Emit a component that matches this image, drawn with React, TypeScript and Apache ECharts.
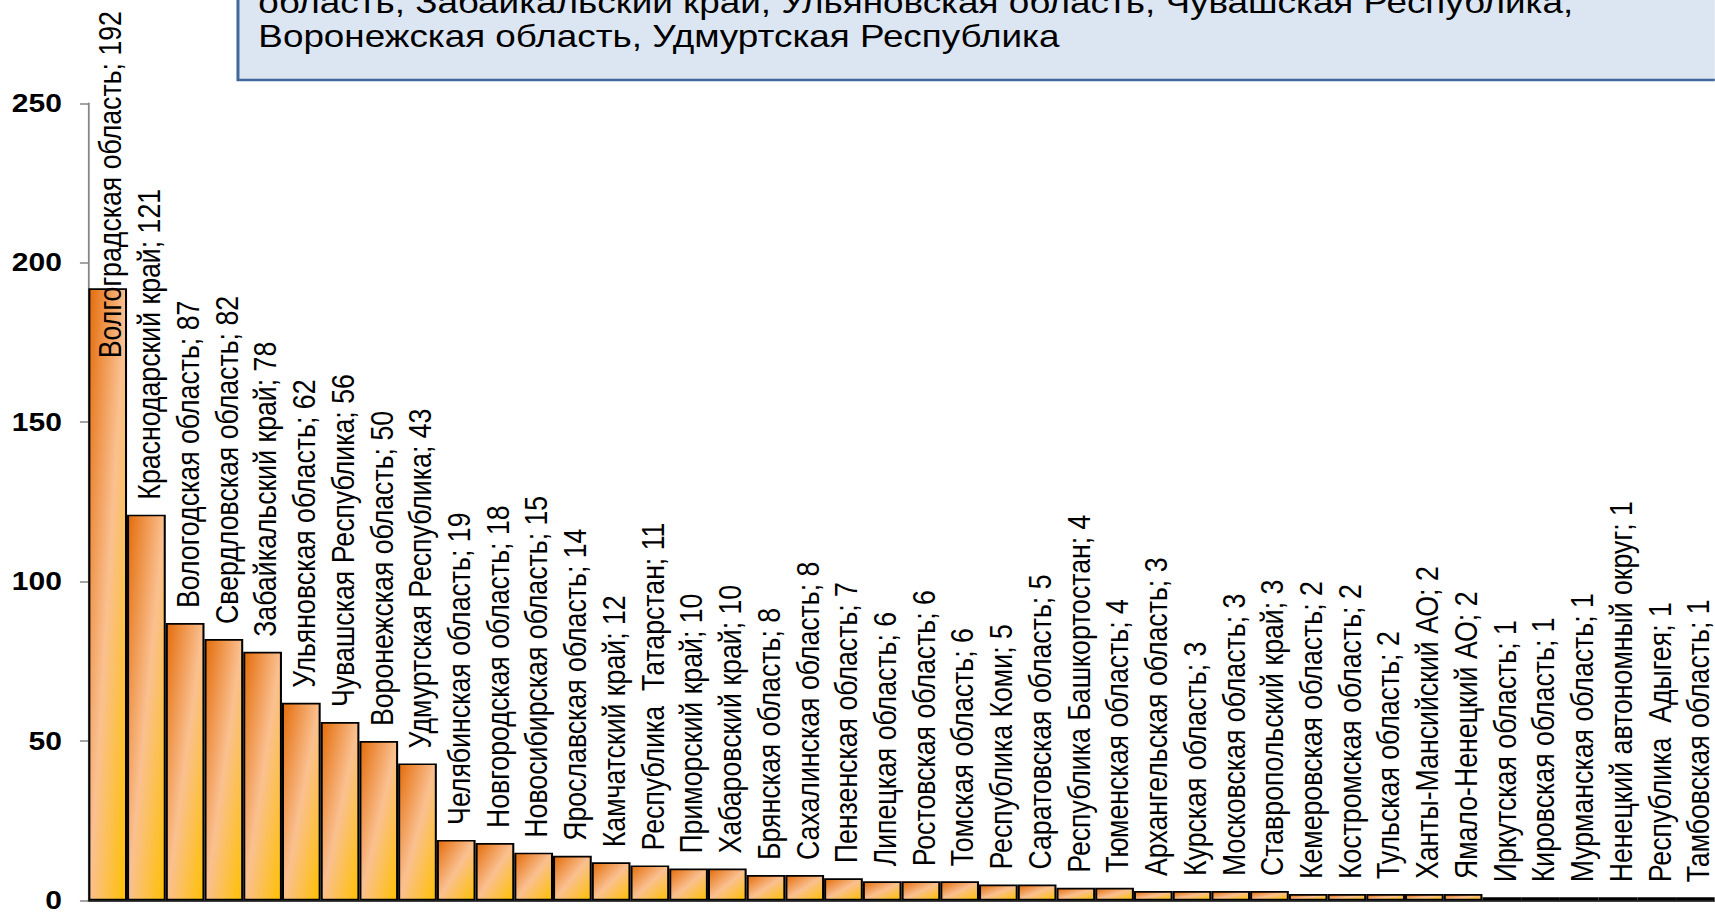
import React, { useEffect, useRef } from "react";
import * as echarts from "echarts";

const regions: string[] = [
  "Волгоградская область",
  "Краснодарский край",
  "Вологодская область",
  "Свердловская область",
  "Забайкальский край",
  "Ульяновская область",
  "Чувашская Республика",
  "Воронежская область",
  "Удмуртская Республика",
  "Челябинская область",
  "Новгородская область",
  "Новосибирская область",
  "Ярославская область",
  "Камчатский край",
  "Республика  Татарстан",
  "Приморский край",
  "Хабаровский край",
  "Брянская область",
  "Сахалинская область",
  "Пензенская область",
  "Липецкая область",
  "Ростовская область",
  "Томская область",
  "Республика Коми",
  "Саратовская область",
  "Республика Башкортостан",
  "Тюменская область",
  "Архангельская область",
  "Курская область",
  "Московская область",
  "Ставропольский край",
  "Кемеровская область",
  "Костромская область",
  "Тульская область",
  "Ханты-Мансийский АО",
  "Ямало-Ненецкий АО",
  "Иркутская область",
  "Кировская область",
  "Мурманская область",
  "Ненецкий автономный округ",
  "Республика  Адыгея",
  "Тамбовская область",
];

const counts: number[] = [
  192, 121, 87, 82, 78, 62, 56, 50, 43, 19, 18, 15, 14, 12, 11, 10, 10, 8, 8, 7,
  6, 6, 6, 5, 5, 4, 4, 3, 3, 3, 3, 2, 2, 2, 2, 2, 1, 1, 1, 1, 1, 1,
];

const yTicks = { min: 0, max: 250, interval: 50 };

const noteLines: string[] = [
  "область, Забайкальский край, Ульяновская область, Чувашская Республика,",
  "Воронежская область, Удмуртская Республика",
];

const STRETCH = 1.2;
const W = 1715;
const H = 913;
const FONT = '"Liberation Sans", Arial, sans-serif';

export default function App() {
  const ref = useRef<HTMLDivElement>(null);

  useEffect(() => {
    if (!ref.current) return;
    const chart = echarts.init(ref.current, undefined, { renderer: "svg" });

    const barColor = new echarts.graphic.LinearGradient(0, 0, 1, 1, [
      { offset: 0, color: "#E46C0A" },
      { offset: 0.5, color: "#FAC090" },
      { offset: 1, color: "#FFC000" },
    ]);

    const data = counts.map((v, i) =>
      i === 0
        ? {
            value: v,
            label: { position: "insideTop", distance: 70 },
          }
        : { value: v }
    );

    chart.setOption({
      animation: false,
      backgroundColor: "#ffffff",
      grid: { left: 73.6, top: 103.3, width: 1362.6, height: 799.4 },
      xAxis: {
        type: "category",
        data: regions,
        axisLabel: { show: false },
        axisTick: { show: false },
        axisLine: { lineStyle: { color: "#000000", width: 1.5 } },
      },
      yAxis: {
        type: "value",
        min: yTicks.min,
        max: yTicks.max,
        interval: yTicks.interval,
        splitLine: { show: false },
        axisLine: { show: true, lineStyle: { color: "#868686", width: 1.5 } },
        axisTick: { show: true, length: 7, lineStyle: { color: "#868686", width: 1.5 } },
        axisLabel: {
          margin: 22,
          color: "#000000",
          fontWeight: "bold",
          fontSize: 25,
          fontFamily: FONT,
        },
      },
      series: [
        {
          type: "bar",
          data,
          barCategoryGap: "0%",
          itemStyle: {
            color: barColor,
            borderColor: "#000000",
            borderWidth: 1.7,
          },
          label: {
            show: true,
            position: "top",
            distance: 15,
            rotate: 90,
            align: "left",
            verticalAlign: "middle",
            offset: [0, 2],
            fontSize: 26.7,
            fontFamily: FONT,
            color: "#000000",
            formatter: (p: any) => `${p.name}; ${p.value}`,
          },
        },
      ],
      graphic: [
        {
          type: "rect",
          shape: { x: 198.3, y: -40, width: 1400, height: 120 },
          style: { fill: "#DCE6F2", stroke: "#41689B", lineWidth: 2.5 },
          z: 10,
        },
        {
          type: "text",
          x: 215.3,
          y: 2.4,
          style: {
            text: noteLines[0],
            fontSize: 30.7,
            fontFamily: FONT,
            fill: "#000000",
            align: "left",
            verticalAlign: "middle",
          },
          z: 11,
        },
        {
          type: "text",
          x: 215.3,
          y: 36.4,
          style: {
            text: noteLines[1],
            fontSize: 30.7,
            fontFamily: FONT,
            fill: "#000000",
            align: "left",
            verticalAlign: "middle",
          },
          z: 11,
        },
      ],
    });

    return () => chart.dispose();
  }, []);

  return (
    <div
      ref={ref}
      style={{
        position: "absolute",
        left: 0,
        top: 0,
        width: W / STRETCH,
        height: H,
        transform: `scaleX(${STRETCH})`,
        transformOrigin: "0 0",
      }}
    />
  );
}
